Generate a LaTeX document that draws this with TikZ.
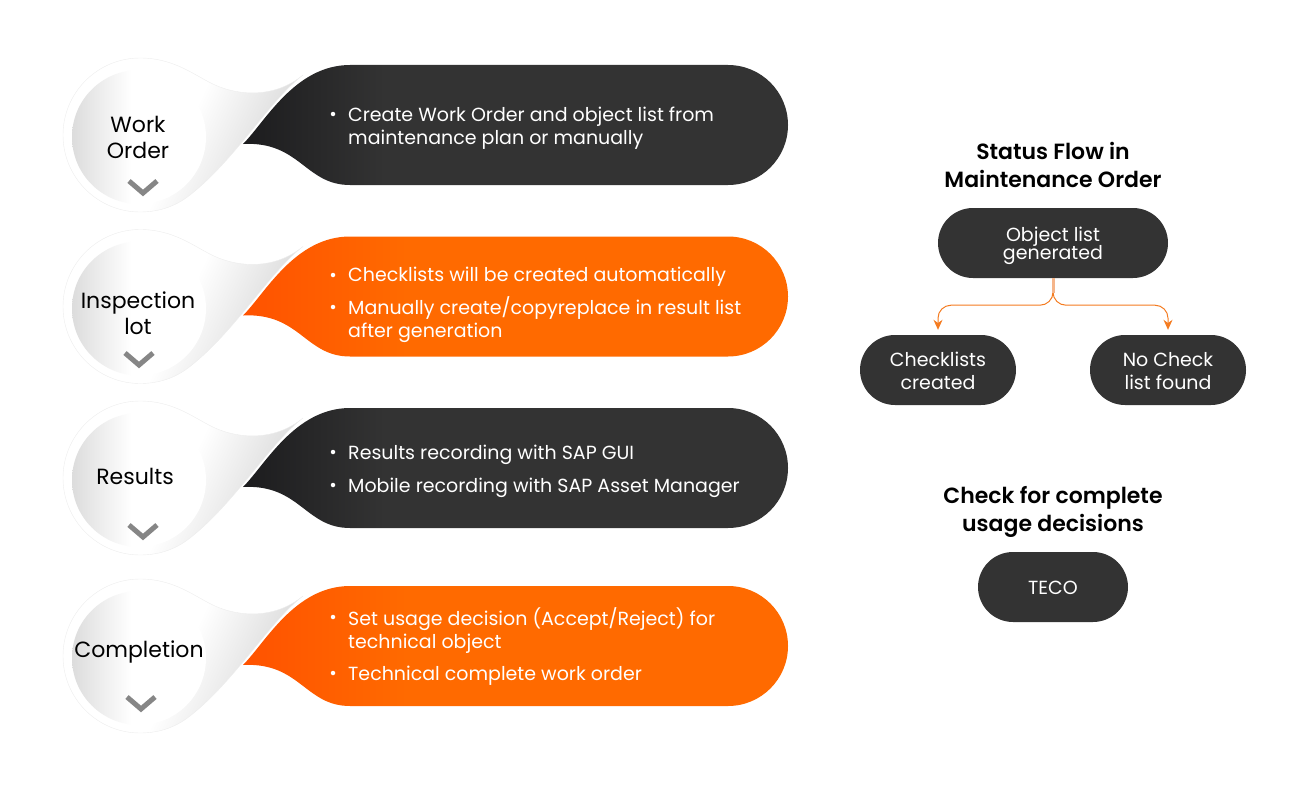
\documentclass[tikz,border=0pt]{standalone}
\usepackage{fontspec}
\setmainfont{Poppins}[BoldFont={Poppins SemiBold}]
\usetikzlibrary{positioning, arrows.meta, shapes.misc}

\definecolor{pilldark}{HTML}{333333}
\definecolor{pillblack}{HTML}{1C1C1E}
\definecolor{pillorange}{HTML}{FF6A00}
\definecolor{pillred}{HTML}{FF5200}
\definecolor{dropgray}{HTML}{D4D4D4}
\definecolor{holegray}{HTML}{DCDCDC}
\definecolor{flow}{HTML}{F47B20}
\definecolor{flowstem}{HTML}{F5B58A}

\pgfdeclarehorizontalshading{darkpill}{100bp}{color(0bp)=(pillblack); color(25bp)=(pillblack); color(38bp)=(pilldark); color(100bp)=(pilldark)}
\pgfdeclarehorizontalshading{orangepill}{100bp}{color(0bp)=(pillred); color(25bp)=(pillred); color(40bp)=(pillorange); color(100bp)=(pillorange)}
\pgfdeclarehorizontalshading{dropshade}{100bp}{color(0bp)=(white); color(50bp)=(white); color(75bp)=(dropgray); color(100bp)=(dropgray)}
\pgfdeclarehorizontalshading{holeshade}{100bp}{color(0bp)=(holegray); color(25bp)=(holegray); color(47bp)=(white); color(100bp)=(white)}

\tikzset{
    itemtext/.style={anchor=west, align=left, text=white, inner sep=0pt, font=\fontsize{19}{23}\selectfont},
    itemdot/.style={circle, fill=white, inner sep=0pt, minimum size=4.5pt},
    droplabel/.style={align=center, text=black, inner sep=0pt, font=\fontsize{22}{26}\selectfont},
    flowbox/.style={rounded rectangle, fill=pilldark, text=white, align=center, inner sep=0pt},
    flowtitle/.style={align=center, text=black, inner sep=0pt, font=\fontsize{22}{28}\selectfont\bfseries},
    flowarrow/.style={draw=flow, line width=1pt, rounded corners=13pt, shorten >=5pt, -{Stealth[length=10pt,width=9pt]}},
    chevron/.style={draw=gray!95, line width=5pt}
}

\begin{document}
\begin{tikzpicture}[x=1pt,y=-1pt]
    \useasboundingbox (0,0) rectangle (1291,800);

    % the four rows
    \foreach \rowy/\rowshade in {0/darkpill, 171.5/orangepill, 343/darkpill, 521/orangepill} {
        \begin{scope}[shift={(0,\rowy)}]
            \shade[shading=\rowshade] (243,144) .. controls (265,122) and (295,65) .. (350,65)
                -- (728,65) arc[start angle=-90, end angle=90, radius=60]
                -- (350,185) .. controls (305,185) and (300,141) .. (243,144) -- cycle;
            \shade[shading=dropshade, shading angle=-25, draw=black!7] (140,58) .. controls (175,58) and (195,76) .. (215,85)
                .. controls (240,96) and (275,98) .. (303,75)
                .. controls (270,100) and (235,160) .. (190,195)
                .. controls (175,207) and (158,212) .. (140,212)
                arc[start angle=90, end angle=270, radius=77] -- cycle;
            \shade[shading=holeshade] (139,137) circle[radius=67];
        \end{scope}
    }

    % row labels
    \node[droplabel] (workorder) at (138,137) {Work\\Order};
    \node[droplabel] (inspection) at (138,313) {Inspection\\lot};
    \node[droplabel] (results) at (135,476.5) {Results};
    \node[droplabel] (completion) at (139,652) {Completion};

    \draw[chevron] (129,181) -- (143,193) -- (157,181);
    \draw[chevron] (125,353) -- (139,365) -- (153,353);
    \draw[chevron] (129,525) -- (143,537) -- (157,525);
    \draw[chevron] (127,697) -- (141,709) -- (155,697);

    % row texts
    \node[itemtext] (create) at (348,128) {Create Work Order and object list from\\maintenance plan or manually};
    \node[itemdot] at (333,114) {};
    \node[itemtext] (auto) at (348,277) {Checklists will be created automatically};
    \node[itemdot] at (333,275) {};
    \node[itemtext] (manual) at (348,319.5) {Manually create/copyreplace in result list\\after generation};
    \node[itemdot] at (333,307) {};
    \node[itemtext] (gui) at (348,454.5) {Results recording with SAP GUI};
    \node[itemdot] at (333,452) {};
    \node[itemtext] (mobile) at (348,487.5) {Mobile recording with SAP Asset Manager};
    \node[itemdot] at (333,485) {};
    \node[itemtext] (usage) at (348,631) {Set usage decision (Accept/Reject) for\\technical object};
    \node[itemdot] at (333,617) {};
    \node[itemtext] (techo) at (348,675.5) {Technical complete work order};
    \node[itemdot] at (333,673) {};

    % status flow
    \node[flowtitle] (statustitle) at (1053,165) {Status Flow in\\Maintenance Order};
    \node[flowbox, minimum width=230pt, minimum height=70pt, font=\fontsize{19}{18}\selectfont] (objlist) at (1053,243) {\rule{0pt}{20pt}Object list\\[-2pt]generated};
    \node[flowbox, minimum width=156pt, minimum height=70pt, font=\fontsize{19}{23}\selectfont] (checklists) at (938,370) {\rule{0pt}{16pt}Checklists\\created};
    \node[flowbox, minimum width=156pt, minimum height=70pt, font=\fontsize{19}{23}\selectfont] (nocheck) at (1168,370) {\rule{0pt}{16pt}No Check\\list found};
    \draw[flowarrow] (objlist.south) -- ++(0,27) -| (checklists.north);
    \draw[flowarrow] (objlist.south) -- ++(0,27) -| (nocheck.north);
    \draw[draw=flowstem, line width=3pt] (objlist.south) -- ++(0,15);

    \node[flowtitle] (tecotitle) at (1053,512) {Check for complete\\usage decisions};
    \node[flowbox, minimum width=150pt, minimum height=70pt, font=\fontsize{19}{23}\selectfont] (teco) at (1053,587) {\rule{0pt}{16pt}TECO};
\end{tikzpicture}
\end{document}
